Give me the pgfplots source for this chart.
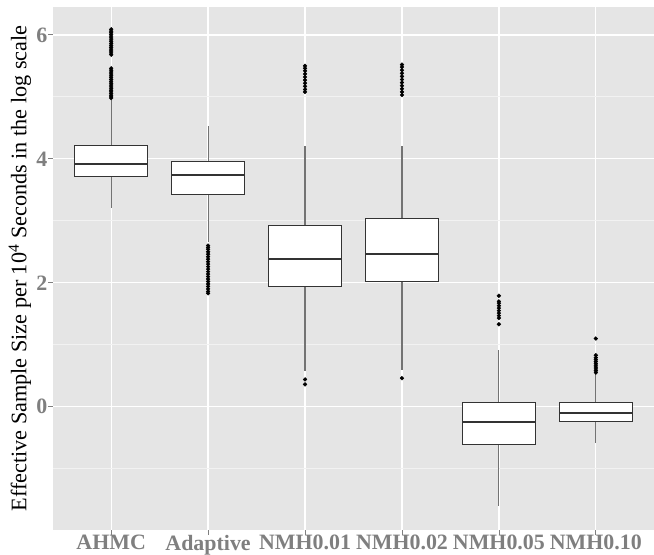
\documentclass[border=0pt]{standalone}
\usepackage{fontspec}
\setmainfont{Liberation Serif}
\usepackage{pgfplots}
\pgfplotsset{compat=1.18}
\usepgfplotslibrary{statistics}
\definecolor{ggbg}{HTML}{E5E5E5}
\definecolor{ggminor}{HTML}{F2F2F2}
\definecolor{ggtxt}{HTML}{7F7F7F}
\definecolor{boxc}{HTML}{333333}
\begin{document}
\begin{tikzpicture}
\path[use as bounding box] (-53bp,-25bp) rectangle (601bp,530bp);
\begin{axis}[
  at={(0,0)}, anchor=south west,
  scale only axis,
  width=601bp, height=523bp,
  xmin=0.4, xmax=6.6,
  ymin=-1.99, ymax=6.45,
  axis line style={draw=none},
  axis background/.style={fill=ggbg},
  xtick={1,2,3,4,5,6},
  xticklabels={AHMC,Adaptive,NMH0.01,NMH0.02,NMH0.05,NMH0.10},
  ytick={0,2,4,6},
  minor ytick={-1,1,3,5},
  minor tick length=0pt,
  major tick length=4.5bp,
  tick align=outside,
  xtick pos=bottom, ytick pos=left,
  tick style={color=ggtxt, line width=0.8bp},
  grid=both,
  major grid style={white, line width=1.3bp},
  minor grid style={ggminor, line width=0.7bp},
  /pgf/number format/assume math mode=true,
  ticklabel style={font=\fontsize{22}{24}\selectfont\bfseries, text=ggtxt},
  xticklabel style={anchor=north, inner sep=0pt, yshift=-0.5bp},
  yticklabel style={anchor=east, inner sep=0pt, xshift=-1bp},
  ylabel={Effective Sample Size per 10\textsuperscript{4} Seconds in the log scale},
  ylabel style={at={(axis description cs:0,0.5)}, anchor=center, rotate=0, yshift=33bp, font=\fontsize{22.3}{24}\selectfont},
  boxplot/draw direction=y,
  boxplot/whisker extend=0,
  boxplot/every box/.style={draw=boxc, fill=white, line width=1bp},
  boxplot/every median/.style={draw=boxc, line width=1.9bp},
  boxplot/every whisker/.style={draw=black!55, line width=1.1bp},
  clip=false,
]
% AHMC
\addplot[mark=*, mark size=1.9bp, mark options={black, fill=black}, draw=boxc,
  boxplot prepared={lower whisker=3.20, lower quartile=3.72, median=3.92,
    upper quartile=4.21, upper whisker=4.95, draw position=1, box extend=0.75}]
  table[row sep=\\, y index=0]{y\\4.98\\5.00\\5.02\\5.05\\5.08\\5.10\\5.13\\5.16\\5.19\\5.22\\5.25\\5.28\\5.31\\5.34\\5.37\\5.40\\5.43\\5.46\\5.68\\5.71\\5.74\\5.77\\5.80\\5.83\\5.86\\5.89\\5.92\\5.95\\5.98\\6.01\\6.04\\6.06\\6.09\\};
% Adaptive
\addplot[mark=*, mark size=1.9bp, mark options={black, fill=black}, draw=boxc,
  boxplot prepared={lower whisker=2.65, lower quartile=3.43, median=3.74,
    upper quartile=3.95, upper whisker=4.53, draw position=2, box extend=0.75}]
  table[row sep=\\, y index=0]{y\\2.60\\2.57\\2.54\\2.50\\2.46\\2.42\\2.38\\2.34\\2.30\\2.26\\2.22\\2.18\\2.14\\2.10\\2.06\\2.02\\1.98\\1.94\\1.90\\1.86\\1.83\\};
% NMH0.01
\addplot[mark=*, mark size=1.9bp, mark options={black, fill=black}, draw=boxc,
  boxplot prepared={lower whisker=0.58, lower quartile=1.94, median=2.39,
    upper quartile=2.92, upper whisker=4.20, draw position=3, box extend=0.75}]
  table[row sep=\\, y index=0]{y\\0.44\\0.36\\5.08\\5.12\\5.17\\5.22\\5.27\\5.32\\5.37\\5.42\\5.46\\5.50\\};
% NMH0.02
\addplot[mark=*, mark size=1.9bp, mark options={black, fill=black}, draw=boxc,
  boxplot prepared={lower whisker=0.59, lower quartile=2.02, median=2.46,
    upper quartile=3.03, upper whisker=4.21, draw position=4, box extend=0.75}]
  table[row sep=\\, y index=0]{y\\0.46\\5.03\\5.08\\5.13\\5.18\\5.23\\5.28\\5.33\\5.38\\5.43\\5.48\\5.52\\};
% NMH0.05
\addplot[mark=*, mark size=1.9bp, mark options={black, fill=black}, draw=boxc,
  boxplot prepared={lower whisker=-1.61, lower quartile=-0.61, median=-0.25,
    upper quartile=0.07, upper whisker=0.92, draw position=5, box extend=0.75}]
  table[row sep=\\, y index=0]{y\\1.33\\1.43\\1.47\\1.51\\1.55\\1.59\\1.63\\1.67\\1.70\\1.79\\};
% NMH0.10
\addplot[mark=*, mark size=1.9bp, mark options={black, fill=black}, draw=boxc,
  boxplot prepared={lower whisker=-0.59, lower quartile=-0.24, median=-0.10,
    upper quartile=0.07, upper whisker=0.53, draw position=6, box extend=0.75}]
  table[row sep=\\, y index=0]{y\\0.55\\0.58\\0.61\\0.64\\0.67\\0.70\\0.73\\0.76\\0.79\\0.83\\1.10\\};
\end{axis}
\end{tikzpicture}
\end{document}
